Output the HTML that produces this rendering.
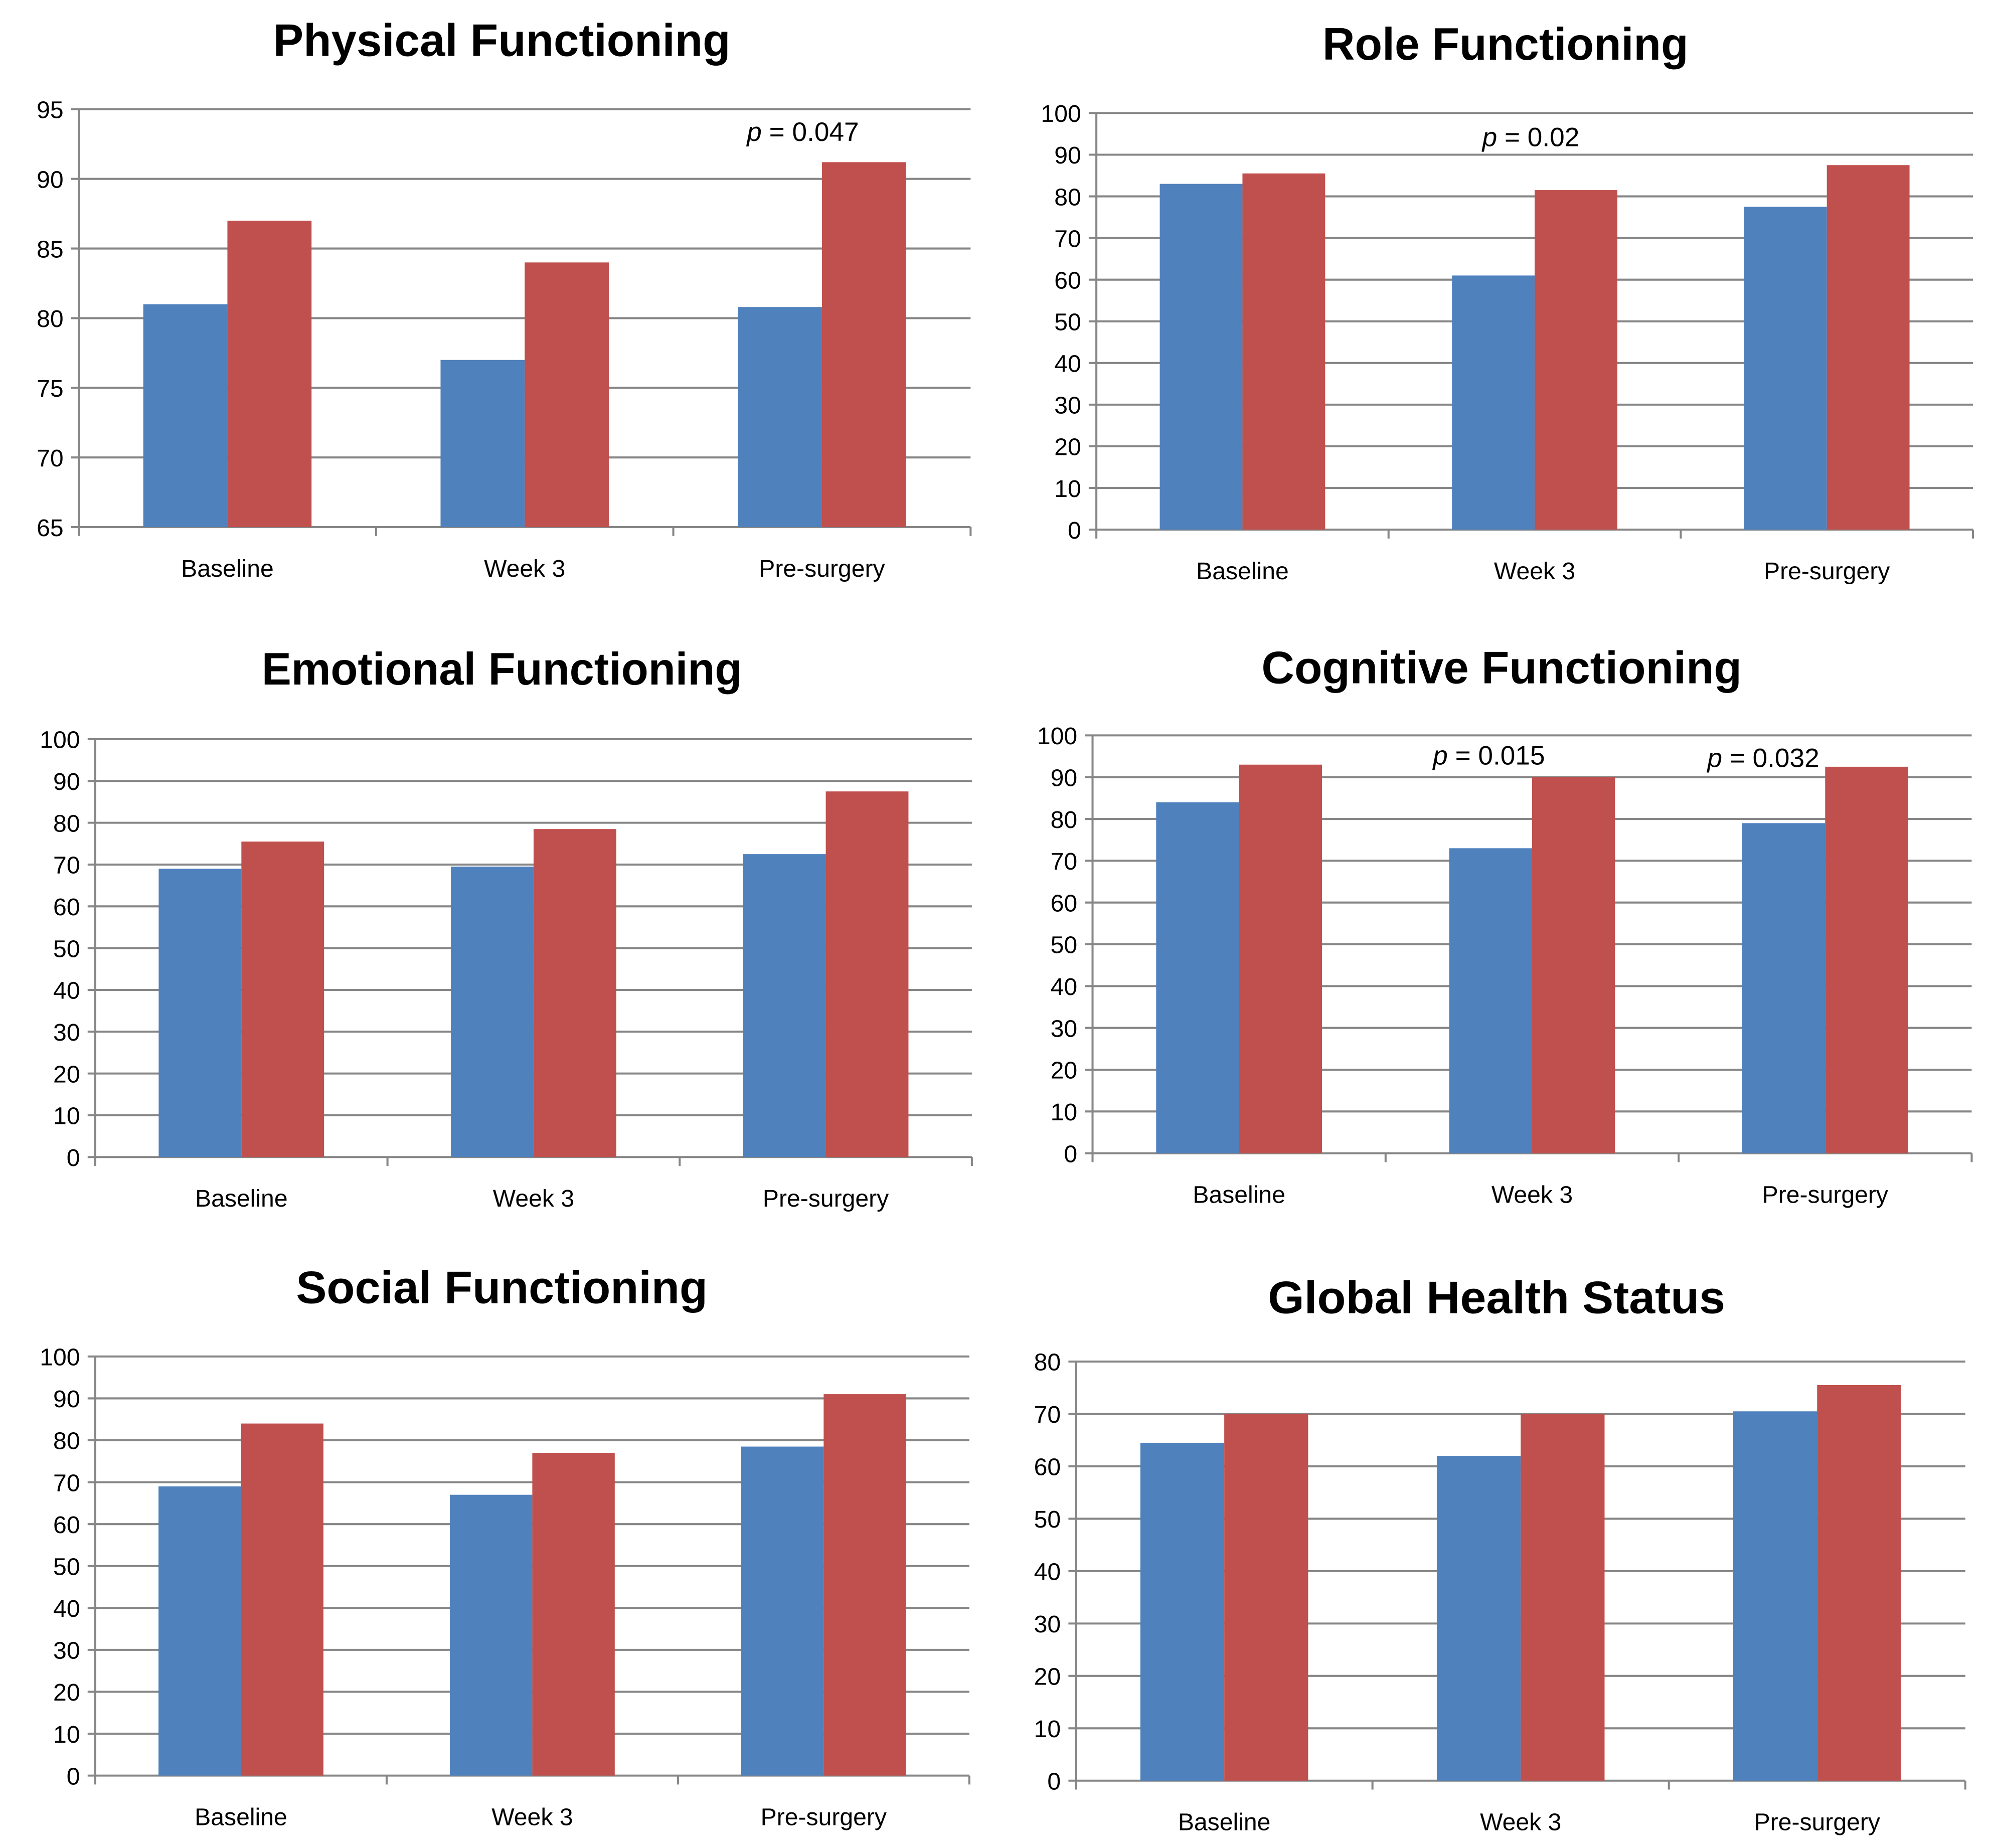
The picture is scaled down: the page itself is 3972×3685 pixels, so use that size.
<!DOCTYPE html>
<html><head><meta charset="utf-8"><style>html,body{margin:0;padding:0;background:#fff}svg{display:block}</style></head>
<body>
<svg id="chart" width="3972" height="3685" viewBox="0 0 1568 1455" preserveAspectRatio="none" xmlns="http://www.w3.org/2000/svg"></svg>
<script>
const categories = ["Baseline","Week 3","Pre-surgery"];
const titles = ["Physical Functioning","Role Functioning","Emotional Functioning","Cognitive Functioning","Social Functioning","Global Health Status"];
const blueValues = [[81,77,80.8],[83,61,77.5],[69,69.5,72.5],[84,73,79],[69,67,78.5],[64.5,62,70.5]];
const redValues = [[87,84,91.2],[85.5,81.5,87.5],[75.5,78.5,87.5],[93,90,92.5],[84,77,91],[70,70,75.5]];
const yMins = [65,0,0,0,0,0];
const yMaxs = [95,100,100,100,100,80];
const ySteps = [5,10,10,10,10,10];
const pLabels = [[null,null,"0.047"],[null,"0.02",null],[null,null,null],[null,"0.015","0.032"],[null,null,null],[null,null,null]];
// layout (not data)
const L=[{x0:62,x1:764,t:86,b:415,tx:395,ty:44},{x0:863,x1:1553,t:89,b:417,tx:1185,ty:47},
{x0:75,x1:765,t:582,b:911,tx:395,ty:539},{x0:860,x1:1552,t:579,b:908,tx:1182,ty:538},
{x0:75,x1:763,t:1068,b:1398,tx:395,ty:1026},{x0:847,x1:1547,t:1072,b:1402,tx:1178,ty:1034}];
const pPos={"0-2":[632,111],"1-1":[1205,115],"3-1":[1172,602],"3-2":[1388,604]};
const svg=document.getElementById('chart');const NS="http://www.w3.org/2000/svg";
function mk(tag,attrs,parent){const e=document.createElementNS(NS,tag);for(const k in attrs)e.setAttribute(k,attrs[k]);(parent||svg).appendChild(e);return e;}
titles.forEach((title,i)=>{
  const l=L[i];const g=mk('g',{});
  
  
  const y=v=>l.b-(v-yMins[i])/(yMaxs[i]-yMins[i])*(l.b-l.t);
  const gw=(l.x1-l.x0)/categories.length;const bw=gw*0.283;
  const tt=mk('text',{x:l.tx,y:l.ty,'text-anchor':'middle','font-family':'Liberation Sans, sans-serif','font-weight':'bold','font-size':36,fill:'#000',textLength:title.length*18,lengthAdjust:'spacingAndGlyphs'},g);
  tt.textContent=title;
  
  
  for(let v=yMins[i];v<=yMaxs[i]+1e-9;v+=ySteps[i]){
    const yy=y(v);
    const gl=mk('line',{x1:l.x0-6,x2:l.x1,y1:yy,y2:yy,stroke:'#868686','stroke-width':1.6},g);
    
    
    const tl=mk('text',{x:l.x0-12,y:yy+7,'text-anchor':'end','font-family':'Liberation Sans, sans-serif','font-size':19,fill:'#000'},g);
    tl.textContent=v;
    
    
  }
  mk('line',{x1:l.x0,x2:l.x0,y1:l.t,y2:l.b,stroke:'#868686','stroke-width':1.6},g);
  for(let c=0;c<=categories.length;c++){const xx=l.x0+c*gw;mk('line',{x1:xx,x2:xx,y1:l.b,y2:l.b+7,stroke:'#868686','stroke-width':1.6},g);}
  categories.forEach((cat,c)=>{
    const cx=l.x0+gw*(c+0.5);
    const yb=y(blueValues[i][c]),yr=y(redValues[i][c]);
    const rb=mk('rect',{x:cx-bw,y:yb,width:bw,height:l.b-yb,fill:'#4f81bd'},g);
    
    
    const rr=mk('rect',{x:cx,y:yr,width:bw,height:l.b-yr,fill:'#c0504d'},g);
    
    
    const cl=mk('text',{x:cx,y:l.b+39,'text-anchor':'middle','font-family':'Liberation Sans, sans-serif','font-size':19,fill:'#000'},g);
    cl.textContent=cat;
    
    
    if(pLabels[i][c]){
      const pp=pPos[i+'-'+c];
      const pt=mk('text',{x:pp[0],y:pp[1],'text-anchor':'middle','font-family':'Liberation Sans, sans-serif','font-size':21,fill:'#000'},g);
      pt.innerHTML='<tspan font-style="italic">p</tspan> = '+pLabels[i][c];
      
      
    }
  });
});
</script>
</body></html>
